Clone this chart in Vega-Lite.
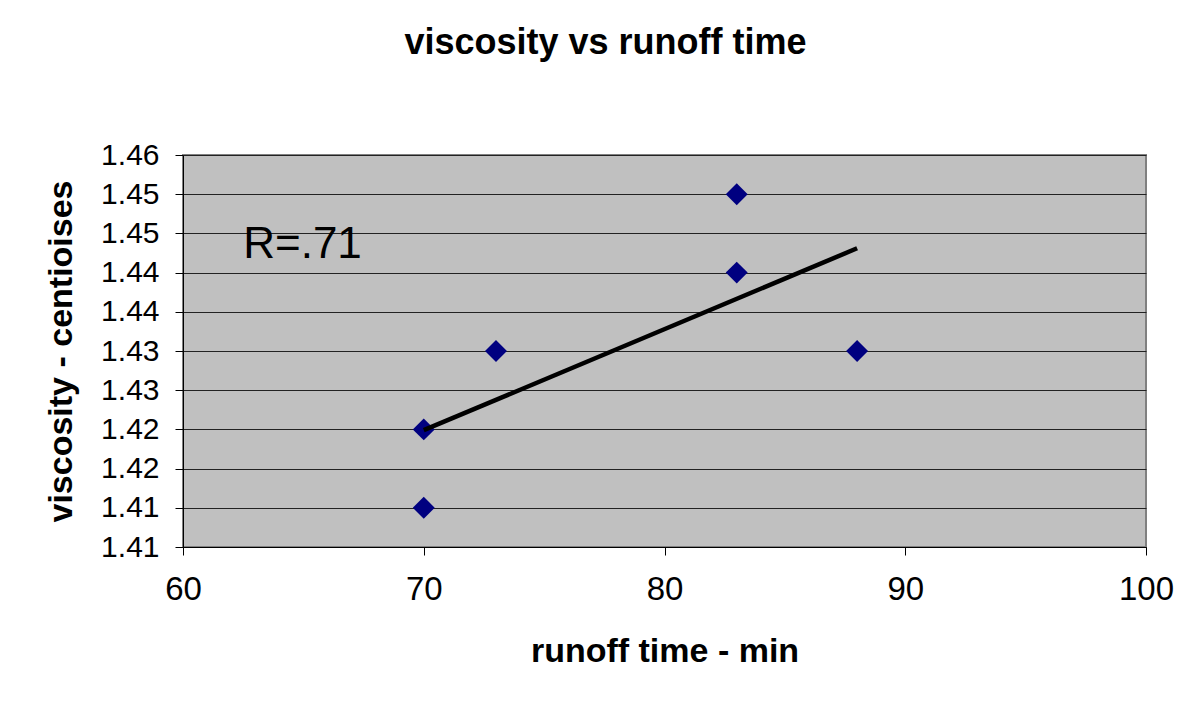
{
  "$schema": "https://vega.github.io/schema/vega-lite/v6.json",
  "autosize": {"type": "none"},
  "width": 963,
  "height": 392,
  "padding": {"left": 183, "top": 155, "right": 47, "bottom": 166},
  "background": "white",
  "title": {
    "text": "viscosity vs runoff time",
    "font": "Liberation Sans",
    "fontSize": 36,
    "fontWeight": "bold",
    "color": "black",
    "anchor": "middle",
    "dx": -59,
    "offset": 78
  },
  "config": {
    "view": {"fill": "#C0C0C0", "stroke": "#808080", "strokeWidth": 2},
    "axis": {
      "labelFont": "Liberation Sans",
      "titleFont": "Liberation Sans",
      "labelColor": "black",
      "titleColor": "black",
      "domainColor": "black",
      "tickColor": "black",
      "tickSize": 8,
      "labelOverlap": false,
      "labelFlush": false,
      "titleFontWeight": "bold",
      "titleFontSize": 34
    }
  },
  "datasets": {
    "points": [
      {"time": 70, "viscosity": 1.41},
      {"time": 70, "viscosity": 1.42},
      {"time": 73, "viscosity": 1.43},
      {"time": 83, "viscosity": 1.44},
      {"time": 83, "viscosity": 1.45},
      {"time": 88, "viscosity": 1.43}
    ],
    "trend": [
      {"time": 70, "viscosity": 1.4199},
      {"time": 88, "viscosity": 1.4431}
    ],
    "note": [
      {"time": 62.5, "viscosity": 1.4435, "label": "R=.71"}
    ]
  },
  "layer": [
    {
      "data": {"name": "points"},
      "mark": {"type": "point", "shape": "diamond", "filled": true, "color": "#000080", "size": 480, "opacity": 1},
      "encoding": {
        "x": {
          "field": "time", "type": "quantitative",
          "scale": {"domain": [60, 100], "nice": false, "zero": false},
          "axis": {
            "values": [60, 70, 80, 90, 100],
            "tickCount": 20,
            "labelFlush": false,
            "grid": false,
            "labelFontSize": 33,
            "labelPadding": 18,
            "title": "runoff time - min",
            "titlePadding": 28
          }
        },
        "y": {
          "field": "viscosity", "type": "quantitative",
          "scale": {"domain": [1.405, 1.455], "nice": false, "zero": false},
          "axis": {
            "values": [1.405, 1.41, 1.415, 1.42, 1.425, 1.43, 1.435, 1.44, 1.445, 1.45, 1.455],
            "tickCount": 20,
            "labelFlush": false,
            "labelExpr": "format(datum.value + 0.0001, '.2f')",
            "grid": true,
            "gridColor": "#222222",
            "gridWidth": 1,
            "labelFontSize": 30,
            "labelPadding": 16,
            "title": "viscosity - centioises",
            "titlePadding": 22
          }
        }
      }
    },
    {
      "data": {"name": "trend"},
      "mark": {"type": "line", "color": "black", "strokeWidth": 4.5},
      "encoding": {
        "x": {"field": "time", "type": "quantitative"},
        "y": {"field": "viscosity", "type": "quantitative"}
      }
    },
    {
      "data": {"name": "note"},
      "mark": {"type": "text", "font": "Liberation Sans", "fontSize": 44, "align": "left", "baseline": "middle", "color": "black"},
      "encoding": {
        "x": {"field": "time", "type": "quantitative"},
        "y": {"field": "viscosity", "type": "quantitative"},
        "text": {"field": "label"}
      }
    }
  ]
}
